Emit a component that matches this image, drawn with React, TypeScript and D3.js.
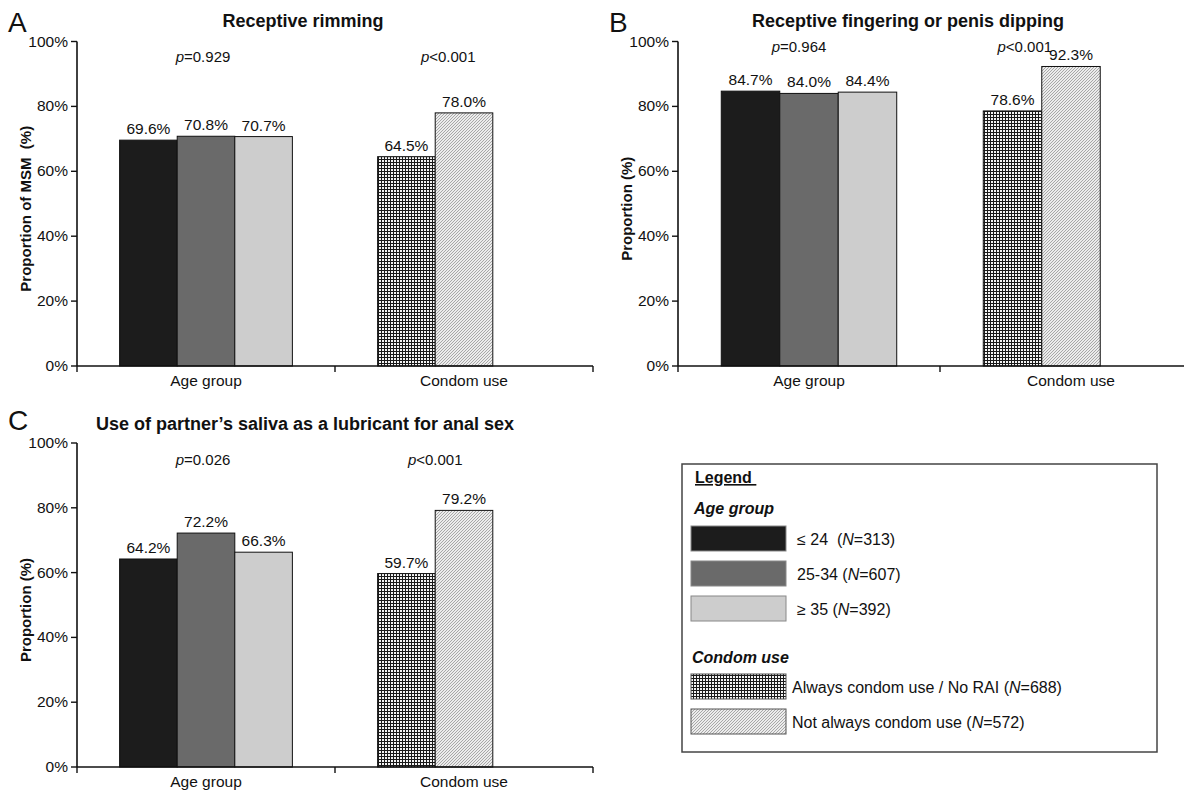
import React from "react";
import * as d3 from "d3";

// ---------- data ----------
const categories = ["Age group", "Condom use"];
const yTicks = [0, 20, 40, 60, 80, 100];

const rimmingAge = [69.6, 70.8, 70.7];
const rimmingCondom = [64.5, 78.0];
const rimmingP = ["=0.929", "<0.001"];

const fingeringAge = [84.7, 84.0, 84.4];
const fingeringCondom = [78.6, 92.3];
const fingeringP = ["=0.964", "<0.001"];

const salivaAge = [64.2, 72.2, 66.3];
const salivaCondom = [59.7, 79.2];
const salivaP = ["=0.026", "<0.001"];

const ageLabels = ["≤ 24  (", "25-34 (", "≥ 35 ("];
const ageN = [313, 607, 392];
const condomLabels = ["Always condom use / No RAI (", "Not always condom use ("];
const condomN = [688, 572];

// ---------- styles ----------
const FONT = "'Liberation Sans', Arial, Helvetica, sans-serif";
const ageFills = ["#1c1c1c", "#6a6a6a", "#cdcdcd"];
const condomFills = ["url(#patDots)", "url(#patHatch)"];

type Layout = {
  letter: string;
  letterX: number;
  letterY: number;
  titleX: number;
  titleY: number;
  x0: number;
  x1: number;
  yTop: number;
  yBot: number;
  pY: number;
  pDx: number[];
  yLabelX: number;
};

function Panel(props: {
  layout: Layout;
  title: string;
  yLabel: string;
  age: number[];
  condom: number[];
  pvals: string[];
}) {
  const { layout: L, title, yLabel, age, condom, pvals } = props;
  const y = d3.scaleLinear().domain([0, 100]).range([L.yBot, L.yTop]);
  const x = d3.scaleBand<string>().domain(categories).range([L.x0, L.x1]).padding(0);
  const slot = d3
    .scaleBand<number>()
    .domain([0, 1, 2])
    .range([0, x.bandwidth()])
    .paddingInner(0)
    .paddingOuter(0.74);
  const groups = [
    { cat: categories[0], vals: age, fills: ageFills, stroke: "#111" },
    { cat: categories[1], vals: condom, fills: condomFills, stroke: "#111" },
  ];
  const bw = slot.bandwidth();
  return (
    <g>
      <text x={L.letterX} y={L.letterY} fontSize={28} fontFamily={FONT} fill="#111">
        {L.letter}
      </text>
      <text
        x={L.titleX}
        y={L.titleY}
        fontSize={18}
        fontWeight="bold"
        textAnchor="middle"
        fontFamily={FONT}
        fill="#111"
      >
        {title}
      </text>
      <text
        transform={`translate(${L.yLabelX},${(L.yTop + L.yBot) / 2 + 5}) rotate(-90)`}
        fontSize={15}
        fontWeight="bold"
        textAnchor="middle"
        fontFamily={FONT}
        fill="#111"
        style={{ whiteSpace: "pre" }}
      >
        {yLabel}
      </text>
      {/* bars */}
      {groups.map((g, gi) =>
        g.vals.map((v, i) => {
          const bx = (x(g.cat) as number) + (slot(i) as number);
          return (
            <g key={`${gi}-${i}`}>
              <rect
                x={bx}
                y={y(v)}
                width={bw}
                height={y(0) - y(v)}
                fill={g.fills[i]}
                stroke={g.stroke}
                strokeWidth={1}
              />
              <text
                x={bx + bw / 2}
                y={y(v) - 6}
                fontSize={15.5}
                textAnchor="middle"
                fontFamily={FONT}
                fill="#111"
              >
                {v.toFixed(1) + "%"}
              </text>
            </g>
          );
        })
      )}
      {/* p values */}
      {groups.map((g, gi) => {
        const n = g.vals.length;
        const gx =
          (x(g.cat) as number) + (slot(0) as number) + (n * bw) / 2 + L.pDx[gi];
        return (
          <text
            key={"p" + gi}
            x={gx}
            y={L.pY}
            fontSize={15}
            textAnchor="middle"
            fontFamily={FONT}
            fill="#111"
          >
            <tspan fontStyle="italic">p</tspan>
            {pvals[gi]}
          </text>
        );
      })}
      {/* y axis */}
      <line x1={L.x0} x2={L.x0} y1={L.yTop} y2={L.yBot} stroke="#111" strokeWidth={1.6} />
      {yTicks.map((t) => (
        <g key={"yt" + t}>
          <line x1={L.x0 - 6} x2={L.x0} y1={y(t)} y2={y(t)} stroke="#111" strokeWidth={1.4} />
          <text
            x={L.x0 - 9}
            y={y(t) + 5}
            fontSize={15.5}
            textAnchor="end"
            fontFamily={FONT}
            fill="#111"
          >
            {t + "%"}
          </text>
        </g>
      ))}
      {/* x axis */}
      <line x1={L.x0} x2={L.x1} y1={L.yBot} y2={L.yBot} stroke="#111" strokeWidth={1.6} />
      {[L.x0, ...categories.map((c) => (x(c) as number) + x.bandwidth())].map((tx, i) => (
        <line key={"xt" + i} x1={tx} x2={tx} y1={L.yBot} y2={L.yBot + 6} stroke="#111" strokeWidth={1.4} />
      ))}
      {categories.map((c) => (
        <text
          key={"xl" + c}
          x={(x(c) as number) + x.bandwidth() / 2}
          y={L.yBot + 20}
          fontSize={15.5}
          textAnchor="middle"
          fontFamily={FONT}
          fill="#111"
        >
          {c}
        </text>
      ))}
    </g>
  );
}

const layoutA: Layout = {
  letter: "A", letterX: 8, letterY: 32, titleX: 303, titleY: 27,
  x0: 77, x1: 593, yTop: 41.5, yBot: 366, pY: 62, pDx: [-3, 13], yLabelX: 31,
};
const layoutB: Layout = {
  letter: "B", letterX: 609, letterY: 32, titleX: 908, titleY: 27,
  x0: 678, x1: 1202, yTop: 41.5, yBot: 366, pY: 52, pDx: [-10, -17], yLabelX: 632,
};
const layoutC: Layout = {
  letter: "C", letterX: 8, letterY: 430, titleX: 305, titleY: 430,
  x0: 77, x1: 593, yTop: 443, yBot: 767, pY: 465, pDx: [-3, 0], yLabelX: 31,
};

function Legend() {
  const lx = 682, ly = 464, lw = 475, lh = 288;
  const swX = 691, swW = 95, swH = 25;
  const ageY = [526, 561, 596];
  const conY = [674, 709];
  return (
    <g fontFamily={FONT} fill="#111">
      <rect x={lx} y={ly} width={lw} height={lh} fill="#fff" stroke="#444" strokeWidth={1.5} />
      <text x={695} y={483} fontSize={16} fontWeight="bold" textDecoration="underline" style={{ whiteSpace: "pre" }}>
        {"Legend "}
      </text>
      <text x={694} y={514} fontSize={16} fontWeight="bold" fontStyle="italic">
        Age group
      </text>
      {ageLabels.map((lab, i) => (
        <g key={"la" + i}>
          <rect x={swX} y={ageY[i]} width={swW} height={swH} fill={ageFills[i]} stroke="#888" strokeWidth={1} />
          <text x={797} y={ageY[i] + swH / 2 + 6} fontSize={16} style={{ whiteSpace: "pre" }}>
            {lab}
            <tspan fontStyle="italic">N</tspan>
            {"=" + ageN[i] + ")"}
          </text>
        </g>
      ))}
      <text x={692} y={663} fontSize={16} fontWeight="bold" fontStyle="italic">
        Condom use
      </text>
      {condomLabels.map((lab, i) => (
        <g key={"lc" + i}>
          <rect x={swX} y={conY[i]} width={swW} height={swH} fill={condomFills[i]} stroke="#555" strokeWidth={1} />
          <text x={792} y={conY[i] + swH / 2 + 6} fontSize={16} style={{ whiteSpace: "pre" }}>
            {lab}
            <tspan fontStyle="italic">N</tspan>
            {"=" + condomN[i] + ")"}
          </text>
        </g>
      ))}
    </g>
  );
}

export default function App() {
  return (
    <svg
      width={1184}
      height={790}
      style={{ position: "absolute", left: 0, top: 0, background: "#fff" }}
    >
      <defs>
        <pattern id="patDots" width={3} height={3} patternUnits="userSpaceOnUse">
          <rect width={3} height={3} fill="#1a1a1a" />
          <rect x={1} y={1} width={2} height={2} fill="#f4f4f4" />
        </pattern>
        <pattern id="patHatch" width={3} height={3} patternUnits="userSpaceOnUse">
          <rect width={3} height={3} fill="#ececec" />
          <path d="M0,3 L3,0 M-1,1 L1,-1 M2,4 L4,2" stroke="#8a8a8a" strokeWidth={0.7} />
        </pattern>
      </defs>
      <rect width={1184} height={790} fill="#fff" />
      <Panel layout={layoutA} title="Receptive rimming" yLabel="Proportion of MSM  (%)" age={rimmingAge} condom={rimmingCondom} pvals={rimmingP} />
      <Panel layout={layoutB} title="Receptive fingering or penis dipping" yLabel="Proportion (%)" age={fingeringAge} condom={fingeringCondom} pvals={fingeringP} />
      <Panel layout={layoutC} title="Use of partner’s saliva as a lubricant for anal sex" yLabel="Proportion (%)" age={salivaAge} condom={salivaCondom} pvals={salivaP} />
      <Legend />
    </svg>
  );
}
